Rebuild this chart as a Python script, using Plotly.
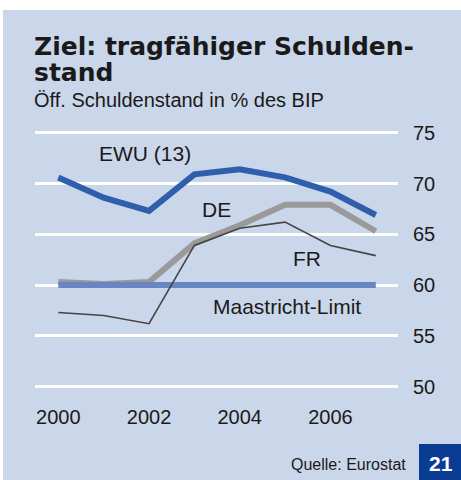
import plotly.graph_objects as go

# ---- data ----
years = [2000, 2001, 2002, 2003, 2004, 2005, 2006, 2007]
ewu = [70.6, 68.6, 67.3, 70.9, 71.4, 70.6, 69.2, 66.9]
de = [60.3, 60.1, 60.3, 64.1, 65.9, 67.9, 67.9, 65.3]
fr = [57.3, 57.0, 56.2, 63.9, 65.6, 66.2, 63.9, 62.9]
limit = [60, 60, 60, 60, 60, 60, 60, 60]
x_ticks = [2000, 2002, 2004, 2006]
y_ticks = [50, 55, 60, 65, 70, 75]

W, H = 461, 480
L, R, T, B = 35, 63, 125, 85
PW, PH = W - L - R, H - T - B


def px(x):
    return (x - L) / PW


def py(y):
    return (H - B - y) / PH


BG = "#cad6e9"
TXT = "#1a1a1a"
SANS = "Liberation Sans, Arial, sans-serif"

fig = go.Figure()
fig.add_trace(go.Scatter(x=years, y=de, mode="lines",
                         line=dict(color="#9a9a9a", width=6), hoverinfo="skip"))
fig.add_trace(go.Scatter(x=years, y=limit, mode="lines",
                         line=dict(color="#6886c2", width=6), hoverinfo="skip"))
fig.add_trace(go.Scatter(x=years, y=fr, mode="lines",
                         line=dict(color="#444444", width=1.6), hoverinfo="skip"))
fig.add_trace(go.Scatter(x=years, y=ewu, mode="lines",
                         line=dict(color="#2f5eac", width=6), hoverinfo="skip"))

shapes = [
    dict(type="rect", xref="paper", yref="paper", x0=px(3), x1=px(462),
         y0=py(10), y1=py(481), fillcolor=BG, line=dict(width=0), layer="below"),
    dict(type="rect", xref="paper", yref="paper", x0=px(419), x1=px(462),
         y0=py(444), y1=py(481), fillcolor="#0a3c93", line=dict(width=0), layer="above"),
]

ann = []


def add_text(text, x, y, size, xanchor="center", family=SANS, color=TXT, bold=False):
    ann.append(dict(text=text, x=px(x), y=py(y), xref="paper", yref="paper",
                    xanchor=xanchor, yanchor="middle", showarrow=False,
                    font=dict(size=size, family=family, color=color,
                              weight="bold" if bold else "normal")))


TF = "DejaVu Sans, sans-serif"
add_text("Ziel: tragfähiger Schulden-", 32, 47, 25, xanchor="left", family=TF, bold=True)
add_text("stand", 32, 72, 25, xanchor="left", family=TF, bold=True)
add_text("Öff. Schuldenstand in % des BIP", 32, 100, 20, xanchor="left")
add_text("EWU (13)", 145, 153, 21)
add_text("DE", 217, 209, 21)
add_text("FR", 307, 258, 21)
add_text("Maastricht-Limit", 287, 306, 21)
add_text("Quelle: Eurostat", 408, 464, 16, xanchor="right")
add_text("21", 441, 463, 21, color="white", bold=True)

fig.update_layout(
    width=W, height=H,
    margin=dict(l=L, r=R, t=T, b=B, pad=0),
    paper_bgcolor="white", plot_bgcolor="rgba(0,0,0,0)",
    showlegend=False,
    shapes=shapes, annotations=ann,
    xaxis=dict(range=[1999.486, 2007.49], tickvals=x_ticks, ticktext=[str(v) for v in x_ticks],
               showgrid=False, zeroline=False, showline=False, ticks="",
               tickfont=dict(size=20, family=SANS, color=TXT),
               ticklabelstandoff=8, fixedrange=True),
    yaxis=dict(range=[49.18, 75.76], tickvals=y_ticks, side="right",
               showgrid=True, gridcolor="white", gridwidth=2.5, zeroline=False,
               showline=False, ticks="",
               tickfont=dict(size=20, family=SANS, color=TXT),
               ticklabelstandoff=14, fixedrange=True),
)

fig.write_html("out.html", config={"displayModeBar": False},
               post_script="document.body.style.margin='0';document.body.style.overflow='hidden';")
